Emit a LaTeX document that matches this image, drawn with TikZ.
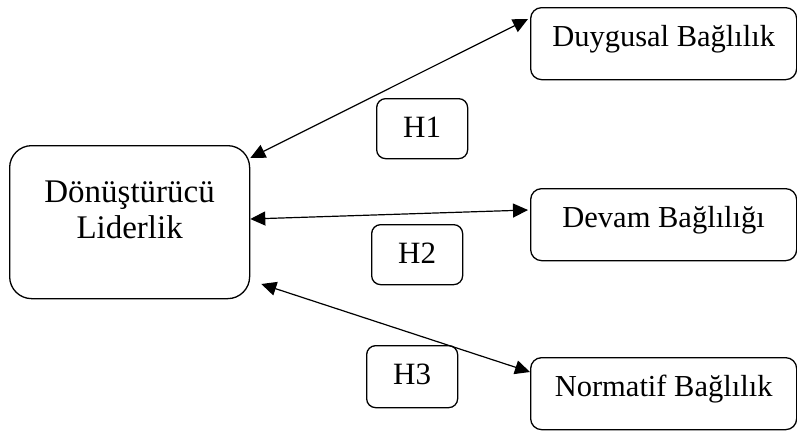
\documentclass[tikz,border=0pt]{standalone}
\usepackage{fontspec}
\setmainfont{Liberation Serif}
\usetikzlibrary{positioning}
\usetikzlibrary{arrows.meta}
\usetikzlibrary{shapes}
\tikzset{
        boxnode/.style={align=center,inner sep=0pt,draw=black,line width=1.3pt,fill=white},
        % Main construct
        node_main/.style={boxnode, rectangle, rounded corners=22pt, text width=240pt, minimum height=153pt, text height=57pt, text depth=96pt, font=\fontsize{33}{36}\selectfont},
        % Commitment dimensions
        node_dim/.style={boxnode, rectangle, rounded corners=11pt, minimum width=266pt, text height=39pt, text depth=33pt, font=\fontsize{30.5}{36}\selectfont},
        % Hypothesis labels
        node_hyp/.style={boxnode, rectangle, rounded corners=9pt, minimum width=91pt, text height=39pt, text depth=21pt, font=\fontsize{31}{36}\selectfont},
        % Relations
        link/.style={<->, >={Triangle[length=15pt,width=14pt]}, line width=1.2pt}
}
\begin{document}
\begin{tikzpicture}[x=1pt, y=-1pt]
            \useasboundingbox (0,0) rectangle (797,431);
            \node[node_main, anchor=north west] (lider) at (9,145) {Dönüştürücü\\Liderlik};
            \node[node_dim, anchor=north west] (duygusal) at (530,7) {Duygusal Bağlılık};
            \node[node_dim, anchor=north west] (devam) at (530,188) {Devam Bağlılığı};
            \node[node_dim, anchor=north west] (normatif) at (530,357) {Normatif Bağlılık};
            \node[node_hyp, anchor=north west] (h1) at (376,98) {H1};
            \node[node_hyp, anchor=north west] (h2) at (371,224) {H2};
            \node[node_hyp, anchor=north west, text depth=23pt] (h3) at (366,345) {H3};
            \draw[link] ([yshift=-13pt]lider.north east) -- ([xshift=-2pt,yshift=-12pt]duygusal.north west);
            \draw[link] ([yshift=-74pt]lider.north east) -- ([xshift=-2pt,yshift=-22pt]devam.north west);
            \draw[link] ([xshift=11pt,yshift=-139pt]lider.north east) -- ([yshift=-15pt]normatif.north west);
        \end{tikzpicture}
\end{document}
